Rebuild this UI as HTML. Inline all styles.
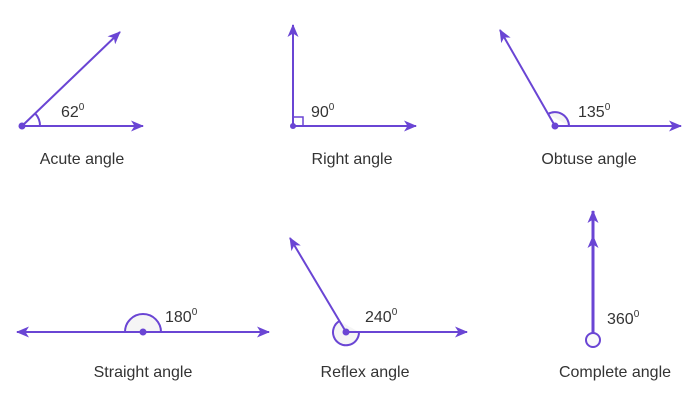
<!DOCTYPE html>
<html><head><meta charset="utf-8"><style>
html,body{margin:0;padding:0;background:#fff;}
svg{display:block;}
text{font-family:"Liberation Sans",sans-serif;fill:#333;}
</style></head><body>
<svg width="695" height="400" viewBox="0 0 695 400">
<defs>
<marker id="a" viewBox="0 0 13 11" refX="12" refY="5.5" markerWidth="13" markerHeight="11" markerUnits="userSpaceOnUse" orient="auto">
<path d="M0,0 L13,5.5 L0,11 L3.5,5.5 Z" fill="#6a45d4"/>
</marker>
</defs>
<g stroke="#6a45d4" stroke-width="2" fill="none">
<!-- acute -->
<path d="M40,126 A18,18 0 0 0 35.5,113.8" fill="#f5f5f5"/>
<line x1="22" y1="126" x2="143" y2="126" marker-end="url(#a)"/>
<line x1="22" y1="126" x2="120" y2="32" marker-end="url(#a)"/>
<!-- right -->
<rect x="293" y="117" width="10" height="9" stroke-width="1.5"/>
<line x1="293" y1="126" x2="416" y2="126" marker-end="url(#a)"/>
<line x1="293" y1="126" x2="293" y2="25" marker-end="url(#a)"/>
<!-- obtuse -->
<path d="M569,126 A14,14 0 0 0 548,114" fill="#f5f5f5"/>
<line x1="555" y1="126" x2="681" y2="126" marker-end="url(#a)"/>
<line x1="555" y1="126" x2="500" y2="30" marker-end="url(#a)"/>
<!-- straight -->
<path d="M125,332 A18,18 0 0 1 161,332" fill="#f5f5f5"/>
<line x1="143" y1="332" x2="269" y2="332" marker-end="url(#a)"/>
<line x1="143" y1="332" x2="17" y2="332" marker-end="url(#a)"/>
<!-- reflex -->
<path d="M339.5,321 A13,13 0 1 0 359,332" fill="#f5f5f5"/>
<line x1="346" y1="332" x2="467" y2="332" marker-end="url(#a)"/>
<line x1="346" y1="332" x2="290" y2="238" marker-end="url(#a)"/>
<!-- complete -->
<line x1="593" y1="334" x2="593" y2="211" stroke-width="3" marker-end="url(#a)"/>
<line x1="593" y1="334" x2="593" y2="236" stroke-width="3" marker-end="url(#a)"/>
<circle cx="593" cy="340" r="7" fill="#fafafa"/>
</g>
<g fill="#6a45d4">
<circle cx="22" cy="126" r="3.5"/>
<circle cx="293" cy="126" r="3"/>
<circle cx="555" cy="126" r="3.5"/>
<circle cx="143" cy="332" r="3.5"/>
<circle cx="346" cy="332" r="3.5"/>
</g>
<g font-size="16">
<text x="61" y="117">62<tspan font-size="10" dy="-7">0</tspan></text>
<text x="311" y="117">90<tspan font-size="10" dy="-7">0</tspan></text>
<text x="578" y="117">135<tspan font-size="10" dy="-7">0</tspan></text>
<text x="165" y="322">180<tspan font-size="10" dy="-7">0</tspan></text>
<text x="365" y="322">240<tspan font-size="10" dy="-7">0</tspan></text>
<text x="607" y="324">360<tspan font-size="10" dy="-7">0</tspan></text>
</g>
<g font-size="16" text-anchor="middle">
<text x="82" y="164">Acute angle</text>
<text x="352" y="164">Right angle</text>
<text x="589" y="164">Obtuse angle</text>
<text x="143" y="377">Straight angle</text>
<text x="365" y="377">Reflex angle</text>
<text x="615" y="377">Complete angle</text>
</g>
</svg>
</body></html>
